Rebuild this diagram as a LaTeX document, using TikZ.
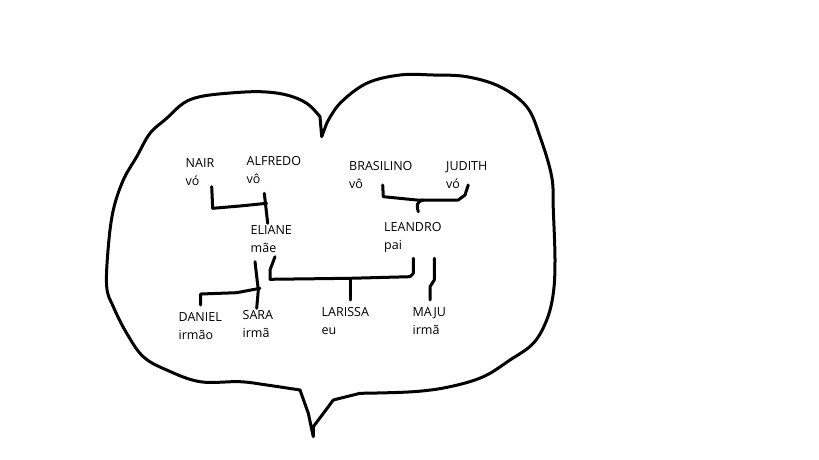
\documentclass[tikz,border=0pt]{standalone}
\usepackage{fontspec}
\setmainfont{Open Sans}
\begin{document}
\begin{tikzpicture}[x=1pt,y=-1pt,
  pen/.style={line width=3pt,line cap=round,line join=round,black},
  person/.style={inner sep=0pt,anchor=west,align=left,font=\fontsize{12.5}{18}\selectfont}]
\useasboundingbox[fill=white] (0,0) rectangle (819,460);
% heart outline
\draw[pen] (321.7,136.7) -- plot[smooth,tension=0.6] coordinates {(320,116.7) (306.7,103.3) (286.7,95) (260,91.7) (226.7,93.3) (200,96.7) (183.3,103.3) (166.7,118.3) (150,133.3) (136.7,156.7) (123.3,180) (113.3,210) (108.3,246.7) (106.7,286.7) (113.3,306.7) (126.7,333.3) (143.3,356.7) (166.7,370) (200,381.7) (240,381.7) (266.7,385) (300,390)}
  -- (308.3,413.3) -- (313.3,436.7) -- (313.3,426.7) -- (333.3,400)
  -- plot[smooth,tension=0.6] coordinates {(360,393.3) (413.3,391.7) (450,386.7) (483.3,376.7) (510,360) (533.3,343.3) (546.7,320) (553.3,293.3) (555,260) (553.3,210) (551.7,176.7) (540,136.7) (526.7,106.7) (500,86.7) (466.7,76.7) (433.3,75) (400,75) (366.7,83.3) (340,103.3) (326.7,123.3)} -- cycle;
% people
\node[person] (nair) at (185.5,172.5) {NAIR\\vó};
\node[person] (alfredo) at (246.5,170.5) {ALFREDO\\vô};
\node[person] (brasilino) at (349,175.5) {BRASILINO\\vô};
\node[person] (judith) at (446,175.5) {JUDITH\\vó};
\node[person] (eliane) at (250.5,239) {ELIANE\\mãe};
\node[person] (leandro) at (384,237.5) {LEANDRO\\pai};
\node[person] (daniel) at (178.5,326) {DANIEL\\irmão};
\node[person] (sara) at (242.5,324) {SARA\\irmã};
\node[person] (larissa) at (321.5,321.5) {LARISSA\\eu};
\node[person] (maju) at (412.5,321.5) {MAJU\\irmã};
% connector points
\coordinate (nairB) at (211.7,186.7);
\coordinate (alfB) at (264.3,193.3);
\coordinate (elT) at (267.7,223.3);
\coordinate (brB) at (382.7,185);
\coordinate (juB) at (468.3,185);
\coordinate (leT) at (418.3,211.7);
\coordinate (elB) at (275,256.7);
\coordinate (leB) at (413.3,258.3);
\coordinate (laT) at (350,300);
\coordinate (saT0) at (255,261.7);
\coordinate (saT) at (256.7,308.3);
\coordinate (daT) at (200.7,305);
\coordinate (maT0) at (434.3,258.3);
\coordinate (maT) at (430,300);
% connectors
\draw[pen] (nairB) -- (212.7,208.3) -- (240,206) -- (266.7,203.3);
\draw[pen] (alfB) -- (elT);
\draw[pen] (brB) -- (383.3,196.7) -- (416.7,200) -- (458.3,200) -- (465,195) -- (juB);
\draw[pen] (423.3,200) .. controls (416,202) and (416.5,206) .. (leT);
\draw[pen] (elB) -- (270,270) -- (270,279.3) -- (350,278.3) -- (410,276.7) -- (413.3,273.3) -- (leB);
\draw[pen] (350,278.3) -- (laT);
\draw[pen] (saT0) -- (258.3,290) -- (saT);
\draw[pen] (daT) -- (200.7,294) -- (236.7,292.7) -- (260,288.3);
\draw[pen] (maT0) -- (434.3,280) -- (430,286.7) -- (maT);
\end{tikzpicture}
\end{document}
